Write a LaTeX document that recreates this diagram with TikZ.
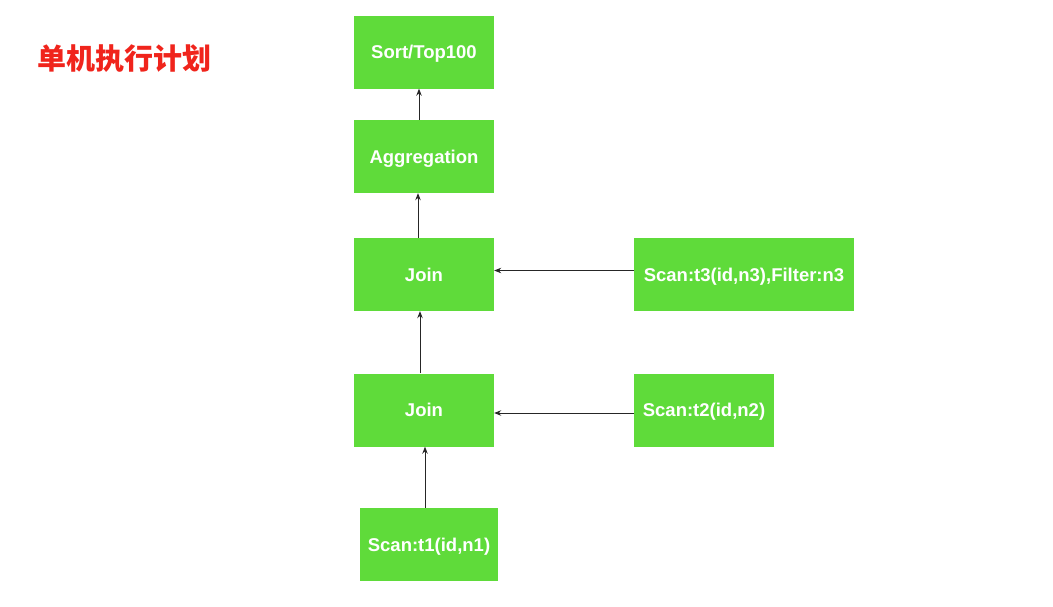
\documentclass[tikz,border=0pt]{standalone}
\usepackage{fontspec}
\setmainfont{Liberation Sans}
\newfontfamily\cjk{Noto Sans CJK SC}
\usetikzlibrary{arrows.meta}
\definecolor{boxgreen}{HTML}{5FDB3A}
\definecolor{titlered}{HTML}{F0241C}
\begin{document}
\begin{tikzpicture}[x=1pt,y=-1pt,
  box/.style={fill=boxgreen,draw=none,minimum height=73pt,inner sep=0pt,
    text height=13.2pt,text depth=0pt,
    text=white,font=\fontsize{18.5}{21}\selectfont\bfseries},
  conn/.style={draw=black!85,line width=0.9pt,-{Stealth[length=7pt,width=5.5pt]}}]
\useasboundingbox (0,0) rectangle (1053,606);
\node[anchor=west,text=titlered,font=\cjk\fontsize{29}{32}\selectfont\bfseries,inner sep=0pt] (title) at (37,58.5) {单机执行计划};
\node[box,minimum width=140pt] (sort) at (424,52) {Sort/Top100};
\node[box,minimum width=140pt] (agg) at (424,156.5) {Aggregation};
\node[box,minimum width=140pt] (j1) at (424,274.5) {Join};
\node[box,minimum width=220pt] (t3) at (744,274.5) {Scan:t3(id,n3),Filter:n3};
\node[box,minimum width=140pt] (j2) at (424,410) {Join};
\node[box,minimum width=140pt] (t2) at (704,410) {Scan:t2(id,n2)};
\node[box,minimum width=138pt] (t1) at (429,544.5) {Scan:t1(id,n1)};
\draw[conn] ([xshift=-4pt]t1.north) -- ([xshift=1pt]j2.south);
\draw[conn] ([xshift=-4pt]j2.north) -- ([xshift=-4pt]j1.south);
\draw[conn] ([xshift=-6pt]j1.north) -- ([xshift=-6pt]agg.south);
\draw[conn] ([xshift=-5pt]agg.north) -- ([xshift=-5pt]sort.south);
\draw[conn] ([yshift=4pt]t3.west) -- ([yshift=4pt]j1.east);
\draw[conn] ([yshift=-3pt]t2.west) -- ([yshift=-3pt]j2.east);
\end{tikzpicture}
\end{document}
